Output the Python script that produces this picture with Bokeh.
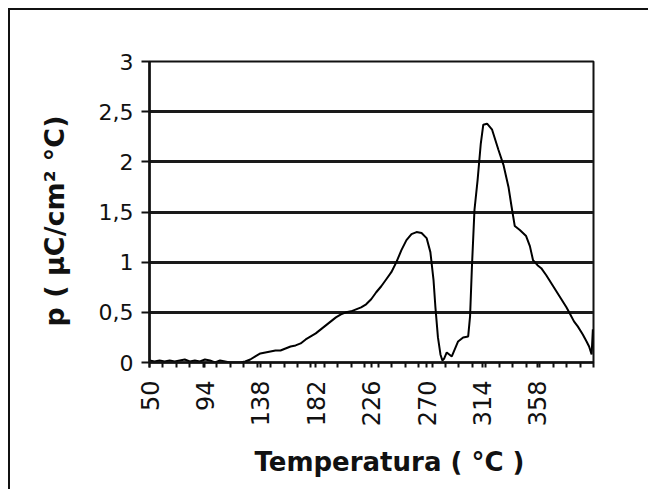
import math
from bokeh.plotting import figure
from bokeh.models import FixedTicker, Range1d, Title
from bokeh.embed import file_html
from bokeh.resources import INLINE

# Temperature (°C) and pyroelectric coefficient p (μC/cm² °C)
temperature = [50, 54, 58, 62, 66, 70, 74, 78, 82, 86, 90, 94, 98, 102, 106, 110,
               114, 118, 122, 126, 130, 134, 138, 142, 146, 150, 154, 158, 162, 166,
               170, 174, 178, 182, 186, 190, 194, 198, 202, 206, 210, 214, 218, 222,
               226, 230, 234, 238, 242, 246, 250, 254, 258, 262, 266, 270, 273, 275.5,
               277, 279, 281, 282.5, 284, 286, 288, 290, 292, 295, 299, 303, 304.5,
               306, 308, 310.5, 313, 315, 318, 322, 327, 331, 335, 337.5, 340, 344,
               349, 352, 354.5, 358, 361, 365, 369, 373, 377, 381, 384, 387, 390, 394,
               397, 399, 401, 402]
p_value = [0.02, 0.01, 0.02, 0.01, 0.02, 0.01, 0.02, 0.03, 0.01, 0.02, 0.01, 0.03,
           0.02, 0.00, 0.02, 0.01, 0.00, 0.00, 0.00, 0.01, 0.03, 0.06, 0.09, 0.10,
           0.11, 0.12, 0.12, 0.14, 0.16, 0.17, 0.19, 0.23, 0.26, 0.29, 0.33, 0.37,
           0.41, 0.45, 0.48, 0.50, 0.51, 0.53, 0.55, 0.58, 0.63, 0.70, 0.76, 0.83,
           0.90, 1.00, 1.12, 1.22, 1.28, 1.30, 1.29, 1.24, 1.10, 0.82, 0.55, 0.25,
           0.08, 0.02, 0.04, 0.10, 0.08, 0.06, 0.12, 0.21, 0.25, 0.26, 0.46, 0.96,
           1.52, 1.82, 2.18, 2.37, 2.38, 2.32, 2.12, 1.97, 1.75, 1.55, 1.36, 1.32,
           1.26, 1.16, 1.02, 0.97, 0.94, 0.87, 0.79, 0.71, 0.63, 0.55, 0.48, 0.41,
           0.36, 0.28, 0.21, 0.16, 0.08, 0.33]

x_ticks = [50, 94, 138, 182, 226, 270, 314, 358]
y_ticks = [0, 0.5, 1, 1.5, 2, 2.5, 3]
y_tick_labels = ["0", "0,5", "1", "1,5", "2", "2,5", "3"]
x_title = "Temperatura  ( °C )"
y_title = "p  ( μC/cm² °C)"

x_start, x_end = 50, 402.5
minor_step = (x_end - x_start) / 33

p = figure(width=640, height=481, output_backend="svg", toolbar_location=None,
           x_range=Range1d(x_start, x_end), y_range=Range1d(0, 3),
           min_border_left=136, min_border_right=57, min_border_top=51,
           min_border_bottom=128, background_fill_color="white",
           border_fill_color="white")
p.styles = {"border-top": "2px solid #111", "border-left": "2px solid #111",
            "margin-left": "8px", "margin-top": "8px"}

p.line(temperature, p_value, line_color="black", line_width=2)

FONT = "DejaVu Sans"

p.xaxis.ticker = FixedTicker(ticks=x_ticks,
                             minor_ticks=[x_start + k * minor_step for k in range(34)])
p.xaxis.major_label_orientation = math.pi / 2
p.xaxis.major_label_text_font = FONT
p.xaxis.major_label_text_font_size = "24px"
p.xaxis.major_label_text_color = "#111"
p.xaxis.major_tick_in = 0
p.xaxis.major_tick_out = 5
p.xaxis.minor_tick_in = 0
p.xaxis.minor_tick_out = 5
p.xaxis.major_tick_line_width = 2
p.xaxis.minor_tick_line_width = 2
p.xaxis.major_tick_line_color = "#111"
p.xaxis.minor_tick_line_color = "#111"
p.xaxis.axis_line_width = 2.5
p.xaxis.axis_line_color = "#111"
p.xaxis.major_label_standoff = 13

p.yaxis.ticker = FixedTicker(ticks=y_ticks, minor_ticks=[])
p.yaxis.major_label_overrides = {t: l for t, l in zip(y_ticks, y_tick_labels)}
p.yaxis.major_label_text_font = FONT
p.yaxis.major_label_text_font_size = "22px"
p.yaxis.major_label_text_color = "#111"
p.yaxis.major_tick_in = 0
p.yaxis.major_tick_out = 8
p.yaxis.major_tick_line_width = 2
p.yaxis.major_tick_line_color = "#111"
p.yaxis.axis_line_width = 2.5
p.yaxis.axis_line_color = "#111"
p.yaxis.major_label_standoff = 8

p.add_layout(Title(text=x_title, align="left", offset=105, standoff=30,
                   text_font=FONT, text_font_size="26px", text_font_style="bold",
                   text_color="#111"), "below")
p.add_layout(Title(text=y_title, align="left", offset=36, standoff=52,
                   text_font=FONT, text_font_size="27px", text_font_style="bold",
                   text_color="#111"), "left")

p.xgrid.grid_line_color = None
p.ygrid.ticker = FixedTicker(ticks=y_ticks)
p.ygrid.grid_line_color = "#1a1a1a"
p.ygrid.grid_line_width = 3

p.outline_line_color = "#111"
p.outline_line_width = 2
p.outline_line_alpha = 1

open("out.html", "w").write(file_html(p, INLINE))
